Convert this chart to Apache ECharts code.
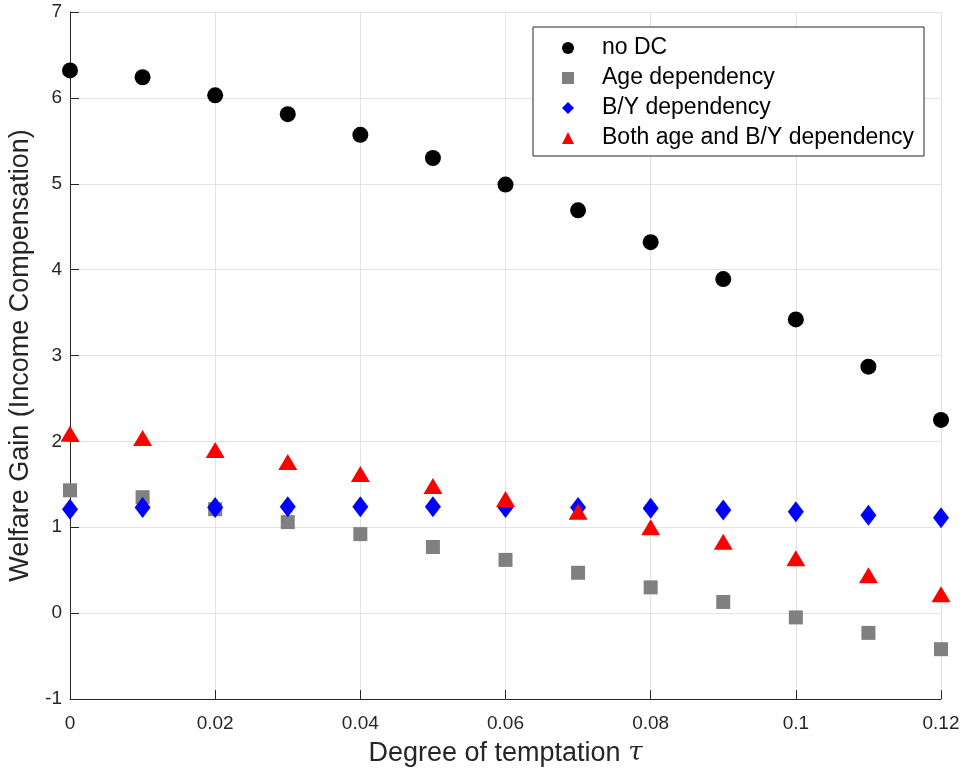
<!DOCTYPE html>
<html>
<head>
<meta charset="utf-8">
<script src="https://cdn.jsdelivr.net/npm/echarts@6/dist/echarts.min.js"></script>
<style>html,body{margin:0;padding:0;background:#fff}#c{width:963px;height:770px}</style>
</head>
<body>
<div id="c"></div>
<script>
const tau = [0, 0.01, 0.02, 0.03, 0.04, 0.05, 0.06, 0.07, 0.08, 0.09, 0.10, 0.11, 0.12];
const noDC = [6.32, 6.24, 6.03, 5.81, 5.57, 5.30, 4.99, 4.69, 4.32, 3.89, 3.42, 2.87, 2.25];
const ageDep = [1.43, 1.35, 1.21, 1.06, 0.92, 0.77, 0.62, 0.47, 0.30, 0.13, -0.05, -0.23, -0.42];
const byDep = [1.21, 1.23, 1.23, 1.24, 1.24, 1.24, 1.23, 1.23, 1.22, 1.20, 1.18, 1.14, 1.11];
const bothDep = [2.09, 2.04, 1.90, 1.76, 1.62, 1.48, 1.33, 1.18, 1.00, 0.83, 0.64, 0.44, 0.22];
const seriesNames = ['no DC', 'Age dependency', 'B/Y dependency', 'Both age and B/Y dependency'];
const xTicks = [0, 0.02, 0.04, 0.06, 0.08, 0.1, 0.12];

const font = 'Liberation Sans, Arial, Helvetica, sans-serif';
const axisColor = '#262626';
const pair = vals => tau.map((t, i) => [t, vals[i]]);

const chart = echarts.init(document.getElementById('c'), null, {renderer: 'canvas'});
chart.setOption({
  animation: false,
  backgroundColor: '#fff',
  grid: {left: 70, right: 22, top: 12, bottom: 71, containLabel: false, outerBoundsMode: 'none'},
  xAxis: {
    type: 'value', min: 0, max: 0.12, interval: 0.02,
    name: 'Degree of temptation {i|τ}',
    nameLocation: 'middle', nameGap: 41,
    nameTextStyle: {fontFamily: font, fontSize: 27, color: axisColor,
      rich: {i: {fontFamily: 'DejaVu Serif, serif', fontStyle: 'italic', fontSize: 26, color: axisColor}}},
    axisLine: {show: true, onZero: false, lineStyle: {color: axisColor, width: 1}},
    axisTick: {show: true, inside: true, length: 9, lineStyle: {color: axisColor}},
    axisLabel: {fontFamily: font, fontSize: 19, color: axisColor, margin: 15,
      formatter: v => { const t = xTicks.find(x => Math.abs(x - v) < 1e-9); return t === undefined ? '' : String(t); }},
    splitLine: {show: true, lineStyle: {color: '#e3e3e3', width: 1}}
  },
  yAxis: {
    type: 'value', min: -1, max: 7, interval: 1,
    name: 'Welfare Gain (Income Compensation)',
    nameLocation: 'middle', nameGap: 29,
    nameTextStyle: {fontFamily: font, fontSize: 27, color: axisColor},
    axisLine: {show: true, onZero: false, lineStyle: {color: axisColor, width: 1}},
    axisTick: {show: true, inside: true, length: 9, lineStyle: {color: axisColor}},
    axisLabel: {fontFamily: font, fontSize: 19, color: axisColor, margin: 8},
    splitLine: {show: true, lineStyle: {color: '#e3e3e3', width: 1}}
  },
  legend: {
    orient: 'vertical', left: 533, top: 27,
    data: seriesNames,
    itemWidth: 12, itemHeight: 12, itemGap: 0,
    padding: [6, 10, 3, 29],
    borderColor: axisColor, borderWidth: 1, backgroundColor: '#fff',
    textStyle: {fontFamily: font, fontSize: 23, color: '#000', lineHeight: 30, padding: [0, 0, 0, 23]}
  },
  series: [
    {name: seriesNames[0], type: 'scatter', data: pair(noDC), symbol: 'circle', symbolSize: 16,
      itemStyle: {color: '#000000', opacity: 1}, clip: false, z: 2},
    {name: seriesNames[1], type: 'scatter', data: pair(ageDep), symbol: 'rect', symbolSize: 14,
      itemStyle: {color: '#808080', opacity: 1}, clip: false, z: 3},
    {name: seriesNames[2], type: 'scatter', data: pair(byDep), symbol: 'diamond', symbolSize: [16, 21],
      itemStyle: {color: '#0000ff', opacity: 1}, clip: false, z: 4},
    {name: seriesNames[3], type: 'scatter', data: pair(bothDep), symbol: 'triangle', symbolSize: [19, 16],
      itemStyle: {color: '#ff0000', opacity: 1}, clip: false, z: 5}
  ]
});
</script>
</body>
</html>
